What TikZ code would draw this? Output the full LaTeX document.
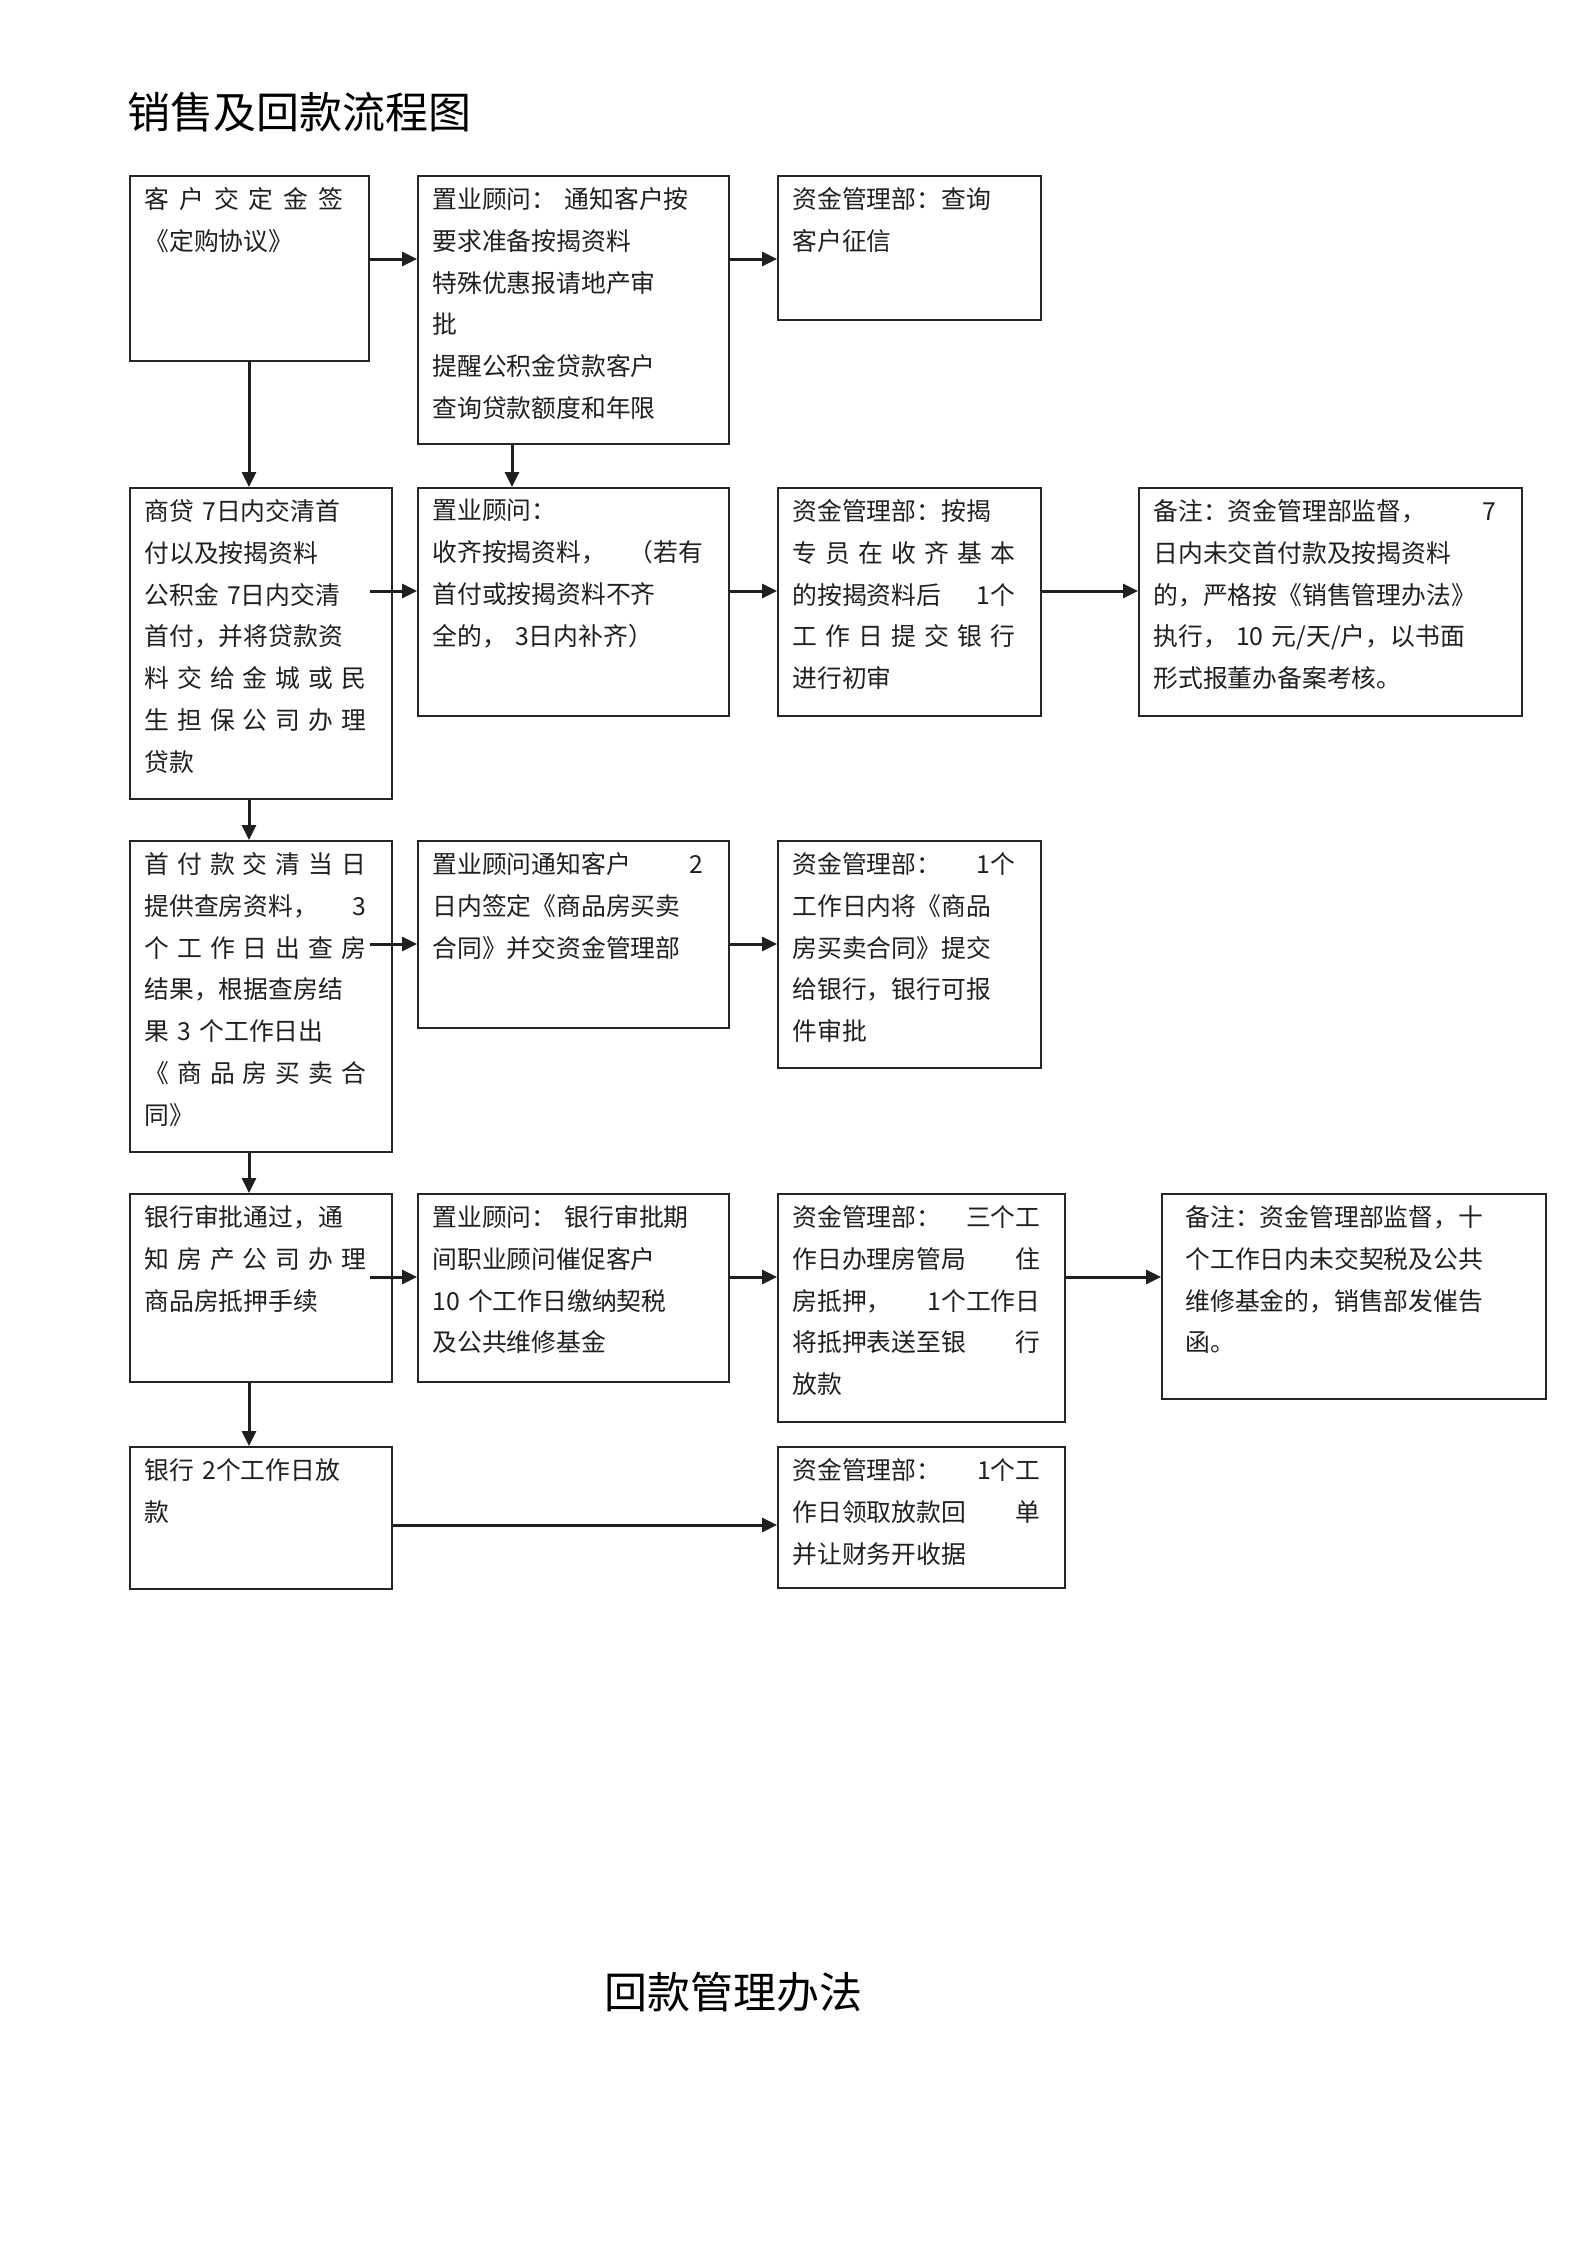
\documentclass[tikz,border=0pt]{standalone}
\usepackage{fontspec}
\setmainfont{Noto Sans CJK SC}
\usetikzlibrary{arrows.meta,calc}
\newcommand\fullline[1]{\makebox[\hsize]{#1}}
\begin{document}
\begin{tikzpicture}[x=0.5pt,y=-0.5pt,
  box/.style={draw=black!85, line width=1pt, inner sep=0pt, anchor=north west},
  txt/.style={anchor=north west, inner sep=0pt, align=left, text=black!88,
              font=\fontsize{12.4}{20.9}\selectfont},
  ttl/.style={anchor=west, inner sep=0pt, font=\fontsize{21.5}{24}\selectfont},
  arr/.style={draw=black!88, line width=1.5pt, -{Triangle[length=7.5pt,width=7pt]}}]
\useasboundingbox (0,0) rectangle (1594,2256);

\node[ttl] (t1) at (127,112) {销售及回款流程图};
\node[ttl] (t2) at (604,1992) {回款管理办法};

% boxes
\node[box, minimum width=119.5pt, minimum height=92.5pt] (A) at (129,175) {};
\node[box, minimum width=155.5pt, minimum height=134pt] (B) at (417,175) {};
\node[box, minimum width=131.5pt, minimum height=72pt] (C) at (777,175) {};
\node[box, minimum width=131pt, minimum height=155.5pt] (D) at (129,487) {};
\node[box, minimum width=155.5pt, minimum height=114pt] (E) at (417,487) {};
\node[box, minimum width=131.5pt, minimum height=114pt] (F) at (777,487) {};
\node[box, minimum width=191.5pt, minimum height=114pt] (G) at (1138,487) {};
\node[box, minimum width=131pt, minimum height=155.5pt] (H) at (129,840) {};
\node[box, minimum width=155.5pt, minimum height=93.5pt] (I) at (417,840) {};
\node[box, minimum width=131.5pt, minimum height=113.5pt] (J) at (777,840) {};
\node[box, minimum width=131pt, minimum height=94pt] (K) at (129,1193) {};
\node[box, minimum width=155.5pt, minimum height=94pt] (L) at (417,1193) {};
\node[box, minimum width=143.5pt, minimum height=114pt] (M) at (777,1193) {};
\node[box, minimum width=192pt, minimum height=102.5pt] (N) at (1161,1193) {};
\node[box, minimum width=131pt, minimum height=71pt] (O) at (129,1446) {};
\node[box, minimum width=143.5pt, minimum height=70.5pt] (P) at (777,1446) {};

% texts
\node[txt, text width=99.5pt] (At) at ([shift={(15,12)}]A.north west) {%
\fullline{客\hfill 户\hfill 交\hfill 定\hfill 金\hfill 签}\\
《定购协议》};
\node[txt, text width=135.5pt] (Bt) at ([shift={(15,12)}]B.north west) {%
置业顾问： 通知客户按\\要求准备按揭资料\\特殊优惠报请地产审\\批\\提醒公积金贷款客户\\查询贷款额度和年限};
\node[txt, text width=111.5pt] (Ct) at ([shift={(15,12)}]C.north west) {%
资金管理部：查询\\客户征信};
\node[txt, text width=111pt] (Dt) at ([shift={(15,12)}]D.north west) {%
商贷 7日内交清首\\付以及按揭资料\\公积金 7日内交清\\首付，并将贷款资\\
\fullline{料\hfill 交\hfill 给\hfill 金\hfill 城\hfill 或\hfill 民}\\
\fullline{生\hfill 担\hfill 保\hfill 公\hfill 司\hfill 办\hfill 理}\\
贷款};
\node[txt, text width=135.5pt] (Et) at ([shift={(15,12)}]E.north west) {%
置业顾问：\\\fullline{收齐按揭资料，\hfill（若有}\\首付或按揭资料不齐\\全的， 3日内补齐）};
\node[txt, text width=111.5pt] (Ft) at ([shift={(15,12)}]F.north west) {%
资金管理部：按揭\\
\fullline{专\hfill 员\hfill 在\hfill 收\hfill 齐\hfill 基\hfill 本}\\
\fullline{的按揭资料后\hfill 1个}\\
\fullline{工\hfill 作\hfill 日\hfill 提\hfill 交\hfill 银\hfill 行}\\
进行初审};
\node[txt, text width=171.5pt] (Gt) at ([shift={(15,12)}]G.north west) {%
\fullline{备注：资金管理部监督，\hfill 7}\\日内未交首付款及按揭资料\\的，严格按《销售管理办法》\\执行， 10 元/天/户，以书面\\形式报董办备案考核。};
\node[txt, text width=111pt] (Ht) at ([shift={(15,12)}]H.north west) {%
\fullline{首\hfill 付\hfill 款\hfill 交\hfill 清\hfill 当\hfill 日}\\
\fullline{提供查房资料，\hfill 3}\\
\fullline{个\hfill 工\hfill 作\hfill 日\hfill 出\hfill 查\hfill 房}\\
结果，根据查房结\\果 3 个工作日出\\
\fullline{《\hfill 商\hfill 品\hfill 房\hfill 买\hfill 卖\hfill 合}\\
同》};
\node[txt, text width=135.5pt] (It) at ([shift={(15,12)}]I.north west) {%
\fullline{置业顾问通知客户\hfill 2}\\日内签定《商品房买卖\\合同》并交资金管理部};
\node[txt, text width=111.5pt] (Jt) at ([shift={(15,12)}]J.north west) {%
\fullline{资金管理部：\hfill 1个}\\工作日内将《商品\\房买卖合同》提交\\给银行，银行可报\\件审批};
\node[txt, text width=111pt] (Kt) at ([shift={(15,12)}]K.north west) {%
银行审批通过，通\\
\fullline{知\hfill 房\hfill 产\hfill 公\hfill 司\hfill 办\hfill 理}\\
商品房抵押手续};
\node[txt, text width=135.5pt] (Lt) at ([shift={(15,12)}]L.north west) {%
置业顾问： 银行审批期\\间职业顾问催促客户\\10 个工作日缴纳契税\\及公共维修基金};
\node[txt, text width=124pt] (Mt) at ([shift={(15,12)}]M.north west) {%
\fullline{资金管理部：\hfill 三个工}\\\fullline{作日办理房管局\hfill 住}\\
\fullline{房抵押， \hfill 1个工作日}\\\fullline{将抵押表送至银\hfill 行}\\放款};
\node[txt, text width=171.5pt] (Nt) at ([shift={(24,12)}]N.north west) {%
备注：资金管理部监督，十\\个工作日内未交契税及公共\\维修基金的，销售部发催告\\函。};
\node[txt, text width=111pt] (Ot) at ([shift={(15,12)}]O.north west) {%
银行 2个工作日放\\款};
\node[txt, text width=124pt] (Pt) at ([shift={(15,12)}]P.north west) {%
\fullline{资金管理部：\hfill 1个工}\\\fullline{作日领取放款回\hfill 单}\\并让财务开收据};

% guide coordinates for connector heights / columns
\coordinate (r1) at (0,259);
\coordinate (r2) at (0,591);
\coordinate (r3) at (0,944);
\coordinate (r4) at (0,1277);
\coordinate (r5) at (0,1525);
\coordinate (v1) at (249,0);
\coordinate (v2) at (512,0);

% connectors
\draw[arr] (A.east |- r1) -- (B.west |- r1);
\draw[arr] (B.east |- r1) -- (C.west |- r1);
\draw[arr] (v1 |- A.south) -- (v1 |- D.north);
\draw[arr] (v2 |- B.south) -- (v2 |- E.north);
\draw[arr] ($(D.east |- r2)+(-23,0)$) -- (E.west |- r2);
\draw[arr] (E.east |- r2) -- (F.west |- r2);
\draw[arr] (F.east |- r2) -- (G.west |- r2);
\draw[arr] (v1 |- D.south) -- (v1 |- H.north);
\draw[arr] ($(H.east |- r3)+(-23,0)$) -- (I.west |- r3);
\draw[arr] (I.east |- r3) -- (J.west |- r3);
\draw[arr] (v1 |- H.south) -- (v1 |- K.north);
\draw[arr] ($(K.east |- r4)+(-23,0)$) -- (L.west |- r4);
\draw[arr] (L.east |- r4) -- (M.west |- r4);
\draw[arr] (M.east |- r4) -- (N.west |- r4);
\draw[arr] (v1 |- K.south) -- (v1 |- O.north);
\draw[arr] (O.east |- r5) -- (P.west |- r5);
\end{tikzpicture}
\end{document}
